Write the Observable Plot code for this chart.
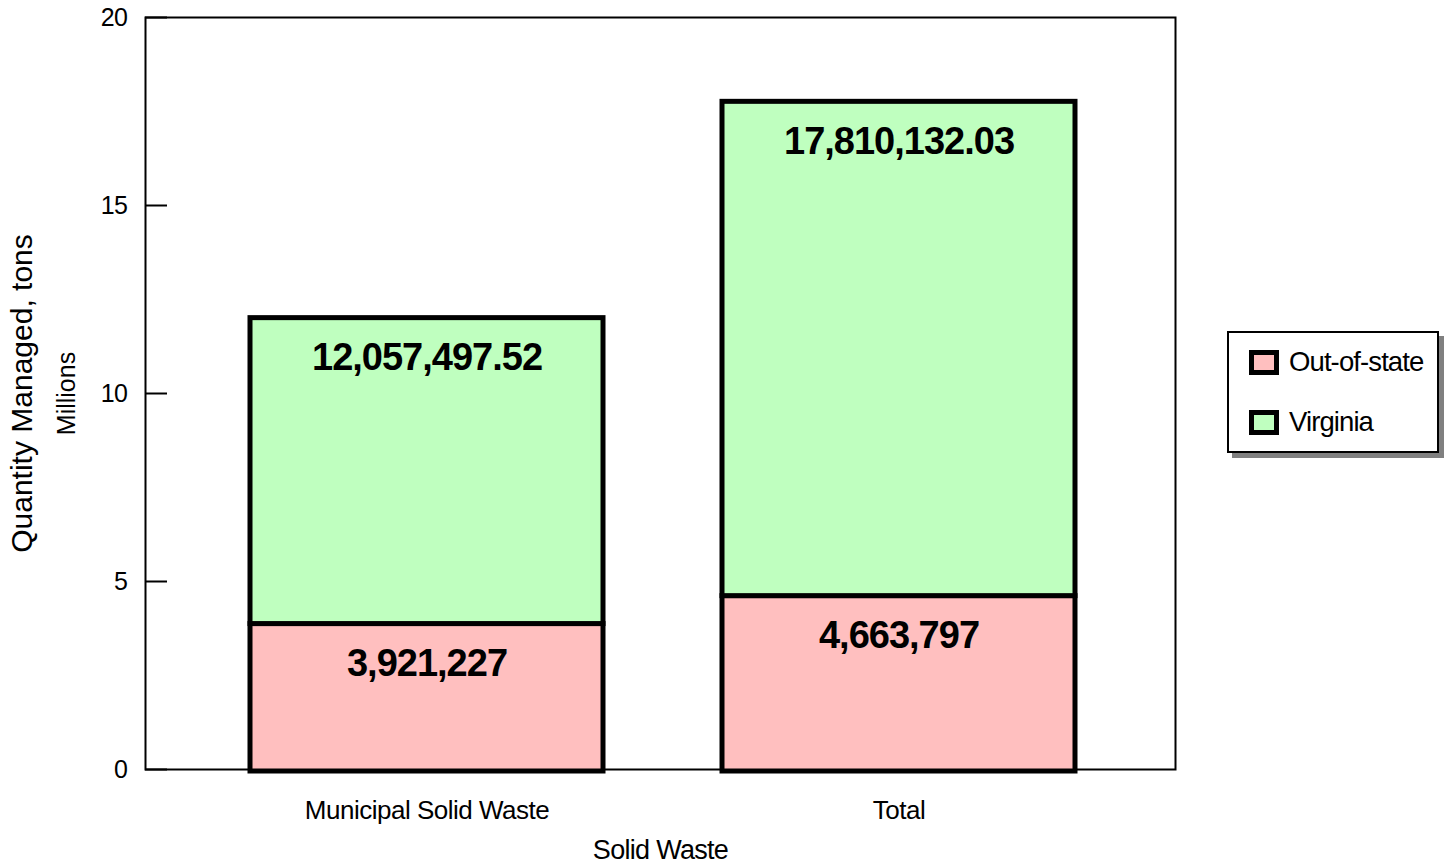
<!DOCTYPE html>
<html>
<head>
<meta charset="utf-8">
<script src="https://cdn.jsdelivr.net/npm/d3@7"></script>
<script src="https://cdn.jsdelivr.net/npm/@observablehq/plot@0.6"></script>
<style>
  html, body { margin: 0; padding: 0; background: #fff; }
  #wrap { position: relative; width: 1444px; height: 867px; font-family: "Liberation Sans", Arial, sans-serif; }
  #legend { position: absolute; left: 1227px; top: 331px; width: 208px; height: 118px;
            border: 2px solid #000; background: #fff; box-shadow: 5px 5px 0 #808080; }
  .item { position: absolute; left: 20px; display: flex; align-items: center; font-size: 27.5px; letter-spacing: -0.9px; color: #000; }
  .sw { width: 20px; height: 15px; border: 5px solid #000; margin-right: 10px; }
</style>
</head>
<body>
<div id="wrap"></div>
<script>
// ---- data ----
const categories = ["Municipal Solid Waste", "Total"];
const outOfState = [3921227, 4663797];            // Out-of-state segment (tons)
const virginiaTop = [12057497.52, 17810132.03];  // top of Virginia segment (tons)
const seriesNames = ["Out-of-state", "Virginia"];
const seriesColors = ["#ffbfbf", "#bfffbf"];
const yTicks = [0, 5e6, 10e6, 15e6, 20e6];

const rows = [];
categories.forEach((c, i) => {
  rows.push({cat: c, series: seriesNames[0], y1: 0, y2: outOfState[i], label: outOfState[i]});
  rows.push({cat: c, series: seriesNames[1], y1: outOfState[i], y2: virginiaTop[i], label: virginiaTop[i]});
});

const fmt = d3.format(",");

const chart = Plot.plot({
  width: 1444,
  height: 867,
  marginLeft: 145,
  marginRight: 269,
  marginTop: 17,
  marginBottom: 98,
  style: {fontFamily: "'Liberation Sans', Arial, sans-serif", color: "#000", background: "#fff"},
  x: {domain: categories, padding: 0.2516, paddingOuter: 0.2146, range: [148, 1178], label: null},
  y: {domain: [0, 20e6], label: null},
  color: {domain: seriesNames, range: seriesColors},
  marks: [
    Plot.frame({stroke: "#000", strokeWidth: 2}),
    Plot.axisY({ticks: yTicks, tickSize: 0, tickPadding: 18, fontSize: 25, tickFormat: d => d / 1e6, label: null}),
    Plot.axisY({ticks: yTicks, tickSize: 22, dx: 22, strokeWidth: 2, tickFormat: () => "", label: null}),
    Plot.axisX({tickSize: 0, tickPadding: 31, fontSize: 26, label: null}),
    Plot.barY(rows, {x: "cat", y1: "y1", y2: "y2", fill: "series", stroke: "#000", strokeWidth: 5, dy: 2}),
    Plot.text(rows, {x: "cat", y: "y2", text: d => fmt(d.label), dy: 42, lineAnchor: "middle",
                     fontSize: 38, fontWeight: "bold", fill: "#000"}),
    Plot.text(["Quantity Managed, tons"], {frameAnchor: "left", textAnchor: "middle", rotate: -90, dx: -123, fontSize: 30, fill: "#000"}),
    Plot.text(["Millions"], {frameAnchor: "left", textAnchor: "middle", rotate: -90, dx: -79, fontSize: 25, fill: "#000"}),
    Plot.text(["Solid Waste"], {frameAnchor: "bottom", lineAnchor: "top", dy: 70, fontSize: 27, fill: "#000"})
  ]
});

d3.select(chart).selectAll('g[font-weight="bold"] text').style("letter-spacing", "-1px");
d3.select(chart).selectAll('g[aria-label="x-axis tick label"] text, g[aria-label="y-axis tick label"] text').style("letter-spacing", "-0.5px");
d3.select(chart).selectAll('g[font-size="27"] text').style("letter-spacing", "-0.7px");

const wrap = document.getElementById("wrap");
wrap.appendChild(chart);

const legend = document.createElement("div");
legend.id = "legend";
seriesNames.forEach((s, i) => {
  const it = document.createElement("div");
  it.className = "item";
  it.style.top = (i === 0 ? 13 : 73) + "px";
  const sw = document.createElement("span");
  sw.className = "sw";
  sw.style.background = seriesColors[i];
  const tx = document.createElement("span");
  tx.textContent = s;
  it.appendChild(sw); it.appendChild(tx);
  legend.appendChild(it);
});
wrap.appendChild(legend);
</script>
</body>
</html>
